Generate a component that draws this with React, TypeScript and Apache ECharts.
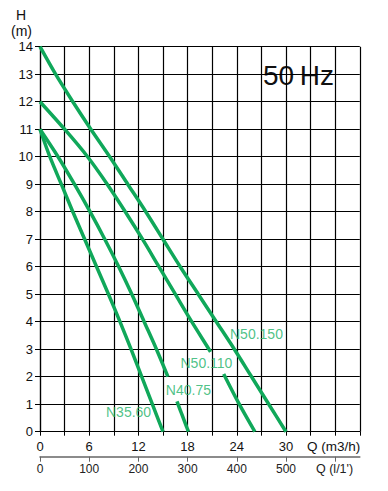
import React, { useEffect, useRef } from "react";
import * as echarts from "echarts";

// Q in m3/h, H in m
const curveN50_150: [number, number][] = [
  [0, 14], [1.9, 13], [4, 12], [6.2, 11], [8.5, 10], [10.7, 9], [12.9, 8], [15, 7],
  [17.1, 6], [19.3, 5], [21.5, 4], [23.7, 3], [25.8, 2], [27.9, 1], [30, 0],
];
const curveN50_110a: [number, number][] = [
  [0, 12], [3, 11], [5.8, 10], [8.2, 9], [10.4, 8], [12.5, 7], [14.5, 6], [16.5, 5],
  [18.5, 4], [20.6, 3], [20.8, 2.9],
];
const curveN50_110b: [number, number][] = [[22.4, 2.1], [24.3, 1], [26.2, 0]];
const curveN40_75a: [number, number][] = [
  [0, 11], [2.2, 10], [4.2, 9], [6.1, 8], [7.9, 7], [9.6, 6], [11.2, 5], [12.7, 4],
  [14.2, 3], [15.6, 2],
];
const curveN40_75b: [number, number][] = [[16.7, 1.1], [18.1, 0]];
const curveN35_60: [number, number][] = [
  [0, 11], [1.2, 10], [2.6, 9], [4.0, 8], [5.45, 7], [6.9, 6], [8.35, 5], [9.75, 4],
  [11.1, 3], [12.4, 2], [13.7, 1], [15, 0],
];

const curveLabels = ["N50.150", "N50.110", "N40.75", "N35.60"];
const curveLabelAt: [number, number][] = [[26.4, 3.55], [20.3, 2.5], [18.1, 1.5], [10.8, 0.73]];

const qMax = 39; // m3/h
const hMax = 14;
const qLabelsM3h = [0, 6, 12, 18, 24, 30];
const qLabelsLmin = [0, 100, 200, 300, 400, 500];

const GREEN = "#10a85a";
const LABEL_GREEN = "#22b268";
const FONT = "'Liberation Sans', Arial, sans-serif";

export default function App() {
  const ref = useRef<HTMLDivElement>(null);
  useEffect(() => {
    if (!ref.current) return;
    const chart = echarts.init(ref.current, undefined, { renderer: "svg" });
    const lineSeries = (data: [number, number][]) => ({
      type: "line",
      data,
      xAxisIndex: 0,
      yAxisIndex: 0,
      symbol: "none",
      smooth: 0.3,
      lineStyle: { color: GREEN, width: 3.5 },
      z: 5,
    });
    chart.setOption({
      animation: false,
      backgroundColor: "#ffffff",
      textStyle: { fontFamily: FONT },
      grid: { left: 40, top: 46.7, right: 28.2, bottom: 59.3 },
      xAxis: [
        {
          type: "value",
          min: 0,
          max: qMax,
          interval: 3,
          position: "bottom",
          axisLine: { show: true, lineStyle: { color: "#000", width: 1.2 } },
          axisTick: { show: true, length: 4, lineStyle: { color: "#000" } },
          splitLine: { show: true, lineStyle: { color: "#000", width: 1.2 } },
          axisLabel: {
            color: "#111",
            fontSize: 13,
            margin: 8,
            fontFamily: FONT,
            formatter: (v: number) => (qLabelsM3h.includes(v) ? String(v) : ""),
          },
        },
        {
          type: "value",
          min: 0,
          max: (qMax * 1000) / 60,
          interval: 100,
          position: "bottom",
          offset: 25,
          axisLine: { show: true, lineStyle: { color: "#666", width: 1.5 } },
          axisTick: { show: true, length: 5, lineStyle: { color: "#666" } },
          splitLine: { show: false },
          axisLabel: {
            color: "#222",
            fontSize: 12,
            margin: 6,
            fontFamily: FONT,
            showMaxLabel: false,
            formatter: (v: number) => (qLabelsLmin.includes(v) ? String(v) : ""),
          },
        },
      ],
      yAxis: {
        type: "value",
        min: 0,
        max: hMax,
        interval: 1,
        axisLine: { show: true, lineStyle: { color: "#000", width: 1.2 } },
        axisTick: { show: true, length: 5, lineStyle: { color: "#000" } },
        splitLine: { show: true, lineStyle: { color: "#000", width: 1.2 } },
        axisLabel: { color: "#111", fontSize: 13, margin: 7, fontFamily: FONT },
      },
      series: [
        lineSeries(curveN50_150),
        lineSeries(curveN50_110a),
        lineSeries(curveN50_110b),
        lineSeries(curveN40_75a),
        lineSeries(curveN40_75b),
        lineSeries(curveN35_60),
        {
          type: "scatter",
          xAxisIndex: 0,
          yAxisIndex: 0,
          symbolSize: 0,
          z: 6,
          data: curveLabels.map((name, i) => ({ name, value: curveLabelAt[i] })),
          label: {
            show: true,
            position: "inside",
            formatter: (p: any) => p.name,
            color: LABEL_GREEN,
            fontSize: 14,
            fontFamily: FONT,
          },
        },
      ],
      graphic: [
        {
          type: "text",
          left: 16,
          top: 8,
          style: { text: "H", fontSize: 14, fill: "#111", fontFamily: FONT },
        },
        {
          type: "text",
          left: 11,
          top: 24,
          style: { text: "(m)", fontSize: 14, fill: "#111", fontFamily: FONT },
        },
        {
          type: "text",
          left: 263,
          top: 61,
          style: { text: "50\u2009Hz", fontSize: 28, fill: "#111", fontFamily: FONT },
        },
        {
          type: "text",
          left: 307,
          top: 439,
          style: { text: "Q (m3/h)", fontSize: 13.5, fill: "#111", fontFamily: FONT },
        },
        {
          type: "text",
          left: 316,
          top: 462,
          style: { text: "Q (l/1')", fontSize: 12.5, fill: "#222", fontFamily: FONT },
        },
      ],
    });
    return () => chart.dispose();
  }, []);
  return <div ref={ref} style={{ width: 388, height: 491, position: "absolute", left: 0, top: 0 }} />;
}
